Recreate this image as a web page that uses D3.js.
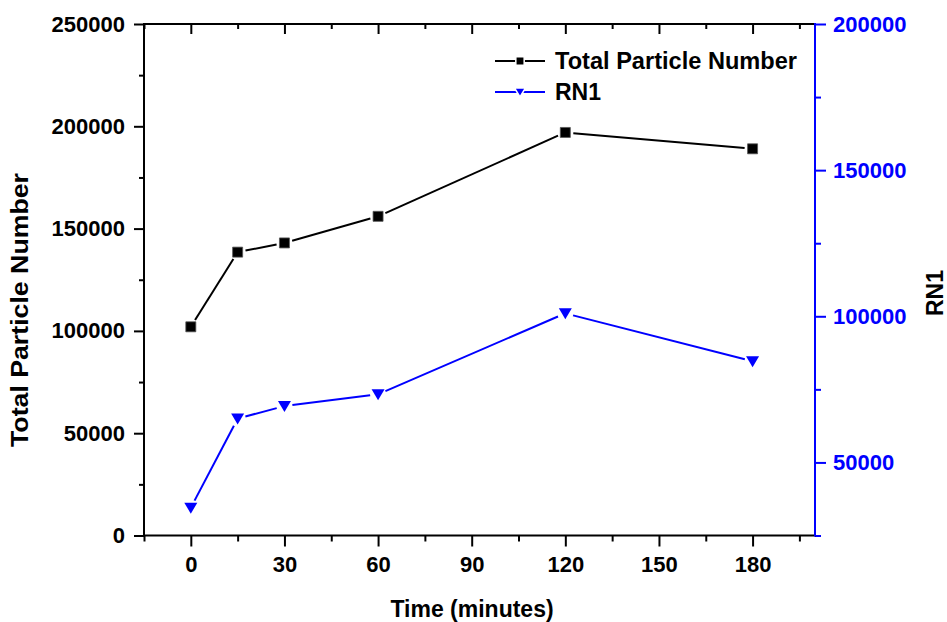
<!DOCTYPE html>
<html>
<head>
<meta charset="utf-8">
<script src="https://cdn.jsdelivr.net/npm/d3@7.9.0/dist/d3.min.js"></script>
<style>
  body { margin: 0; background: #fff; }
  svg { display: block; font-family: "Liberation Sans", Arial, sans-serif; font-weight: bold; }
</style>
</head>
<body>
<div id="chart"></div>
<script>
const times = [0, 15, 30, 60, 120, 180];
const totalParticles = [102000, 138500, 143000, 156000, 197000, 189000];
const rn1 = [34500, 65000, 69300, 73300, 101000, 84600];

const xTicks = [0, 30, 60, 90, 120, 150, 180];
const xMinor = [-15, 15, 45, 75, 105, 135, 165, 195];
const leftTicks = [0, 50000, 100000, 150000, 200000, 250000];
const leftMinor = [25000, 75000, 125000, 175000, 225000];
const rightTicks = [50000, 100000, 150000, 200000];
const rightMinor = [25000, 75000, 125000, 175000];

const width = 947;
const height = 622;
const blue = "#0000ff";

const svg = d3.select("#chart")
  .append("svg")
  .attr("width", width)
  .attr("height", height);

svg.append("rect").attr("width", width).attr("height", height).attr("fill", "#fff");

const area = { left: 144, right: 815, top: 24, bottom: 535.5 };

const x = d3.scaleLinear().domain([-15, 200]).range([area.left, area.right]);
const yL = d3.scaleLinear().domain([0, 250000]).range([area.bottom, area.top]);
const yR = d3.scaleLinear().domain([25000, 200000]).range([area.bottom, area.top]);

// axes
function styleAxis(g, color) {
  g.select(".domain").remove();
  g.selectAll("line").attr("stroke", color).attr("stroke-width", 2);
  g.selectAll("text")
    .attr("fill", color)
    .style("font-size", "22px")
    .style("font-family", "Liberation Sans, Arial, sans-serif")
    .style("font-weight", "bold");
}

const bottomAxis = svg.append("g").attr("transform", `translate(0,${area.bottom})`);
bottomAxis.call(d3.axisBottom(x).tickValues(xTicks).tickSize(11).tickPadding(10).tickFormat(d3.format("d")));
styleAxis(bottomAxis, "#000");
bottomAxis.append("g").call(d3.axisBottom(x).tickValues(xMinor).tickSize(6).tickFormat(""))
  .call((g) => styleAxis(g, "#000"));

const topAxis = svg.append("g").attr("transform", `translate(0,${area.top})`);
topAxis.call(d3.axisBottom(x).tickValues(xTicks).tickSize(10).tickFormat(""));
styleAxis(topAxis, "#000");
topAxis.append("g").call(d3.axisBottom(x).tickValues(xMinor).tickSize(5).tickFormat(""))
  .call((g) => styleAxis(g, "#000"));

const leftAxis = svg.append("g").attr("transform", `translate(${area.left},0)`);
leftAxis.call(d3.axisLeft(yL).tickValues(leftTicks).tickSize(10).tickPadding(9).tickFormat(d3.format("d")));
styleAxis(leftAxis, "#000");
leftAxis.append("g").call(d3.axisLeft(yL).tickValues(leftMinor).tickSize(5).tickFormat(""))
  .call((g) => styleAxis(g, "#000"));

const rightAxis = svg.append("g").attr("transform", `translate(${area.right},0)`);
rightAxis.call(d3.axisRight(yR).tickValues(rightTicks).tickSize(11).tickPadding(7).tickFormat(d3.format("d")));
styleAxis(rightAxis, blue);
rightAxis.append("g").call(d3.axisRight(yR).tickValues(rightMinor).tickSize(6).tickFormat(""))
  .call((g) => styleAxis(g, blue));

// frame lines
svg.append("line").attr("x1", area.left).attr("x2", area.right).attr("y1", area.top).attr("y2", area.top)
  .attr("stroke", "#000").attr("stroke-width", 2);
svg.append("line").attr("x1", area.left).attr("x2", area.right + 1).attr("y1", area.bottom).attr("y2", area.bottom)
  .attr("stroke", "#000").attr("stroke-width", 2);
svg.append("line").attr("x1", area.left).attr("x2", area.left).attr("y1", area.top - 1).attr("y2", area.bottom + 1)
  .attr("stroke", "#000").attr("stroke-width", 2);
svg.append("line").attr("x1", area.right).attr("x2", area.right).attr("y1", area.top - 1).attr("y2", area.bottom + 1)
  .attr("stroke", blue).attr("stroke-width", 2);

// series lines with small gaps around the markers
function drawSeries(values, yScale, color, gap) {
  const pts = times.map((t, i) => [x(t), yScale(values[i])]);
  const g = svg.append("g");
  for (let i = 0; i < pts.length - 1; i++) {
    const [x0, y0] = pts[i];
    const [x1, y1] = pts[i + 1];
    const len = Math.hypot(x1 - x0, y1 - y0);
    const ux = (x1 - x0) / len;
    const uy = (y1 - y0) / len;
    g.append("line")
      .attr("x1", x0 + ux * gap).attr("y1", y0 + uy * gap)
      .attr("x2", x1 - ux * gap).attr("y2", y1 - uy * gap)
      .attr("stroke", color).attr("stroke-width", 2);
  }
  return pts;
}

const totalPts = drawSeries(totalParticles, yL, "#000", 8);
const rnPts = drawSeries(rn1, yR, blue, 8);

const square = d3.symbol().type(d3.symbolSquare).size(100);
svg.append("g").selectAll("path")
  .data(totalPts)
  .join("path")
  .attr("d", square)
  .attr("transform", (d) => `translate(${d[0]},${d[1]})`)
  .attr("fill", "#000")
  .attr("stroke", "#555")
  .attr("stroke-width", 0.8);

const triDown = "M-6.5,-5 L6.5,-5 L0,6 Z";
svg.append("g").selectAll("path")
  .data(rnPts)
  .join("path")
  .attr("d", triDown)
  .attr("transform", (d) => `translate(${d[0]},${d[1]})`)
  .attr("fill", blue);

// legend
const legend = svg.append("g");
legend.append("line").attr("x1", 495).attr("x2", 545).attr("y1", 61).attr("y2", 61)
  .attr("stroke", "#000").attr("stroke-width", 2);
legend.append("path").attr("d", d3.symbol().type(d3.symbolSquare).size(70)).attr("transform", "translate(520,61)")
  .attr("fill", "#000").attr("stroke", "#fff").attr("stroke-width", 1.5);
legend.append("text").attr("x", 555).attr("y", 69).style("font-size", "23px")
  .attr("textLength", 242).attr("lengthAdjust", "spacingAndGlyphs")
  .text("Total Particle Number");

legend.append("line").attr("x1", 495).attr("x2", 545).attr("y1", 92).attr("y2", 92)
  .attr("stroke", blue).attr("stroke-width", 2);
legend.append("path").attr("d", "M-5.5,-4 L5.5,-4 L0,5 Z").attr("transform", "translate(520,92)")
  .attr("fill", blue).attr("stroke", "#fff").attr("stroke-width", 1.5);
legend.append("text").attr("x", 555).attr("y", 100).style("font-size", "23px")
  .text("RN1");

// axis titles
svg.append("text")
  .attr("x", 472).attr("y", 617)
  .attr("text-anchor", "middle")
  .style("font-size", "23px")
  .text("Time (minutes)");

svg.append("text")
  .attr("transform", "translate(28,310) rotate(-90)")
  .attr("text-anchor", "middle")
  .style("font-size", "23px")
  .attr("textLength", 274).attr("lengthAdjust", "spacingAndGlyphs")
  .text("Total Particle Number");

svg.append("text")
  .attr("transform", "translate(943,293) rotate(-90)")
  .attr("text-anchor", "middle")
  .style("font-size", "23px")
  .text("RN1");
</script>
</body>
</html>
